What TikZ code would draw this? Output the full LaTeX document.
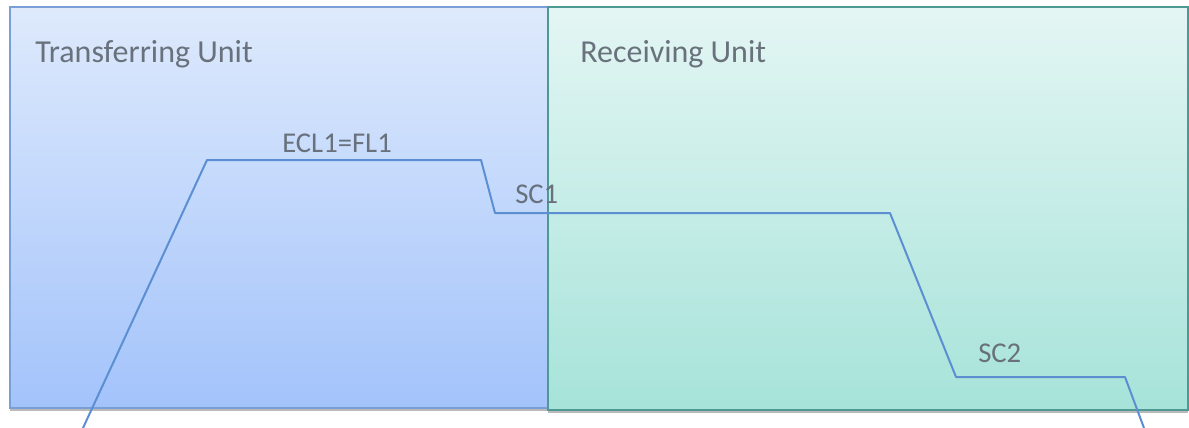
\documentclass[tikz,border=0pt]{standalone}
\usepackage{fontspec}
\setmainfont{Carlito}
\usetikzlibrary{shadows}
\definecolor{tuTop}{HTML}{DEEAFC}
\definecolor{tuBot}{HTML}{A3C3FB}
\definecolor{tuEdge}{HTML}{7A9FD6}
\definecolor{ruTop}{HTML}{E4F6F4}
\definecolor{ruBot}{HTML}{A6E3D9}
\definecolor{ruEdge}{HTML}{4F9995}
\definecolor{pathBlue}{HTML}{5C8FD2}
\definecolor{labelGray}{HTML}{68717C}
\tikzset{
  unitbox/.style={line width=1.5pt, drop shadow={shadow xshift=0pt, shadow yshift=-2.5pt, opacity=0.45, fill=black!60}},
  unittitle/.style={anchor=base west, inner sep=0pt, text=labelGray, font=\fontsize{24}{28}\selectfont},
  levellabel/.style={anchor=base west, inner sep=0pt, text=labelGray, font=\fontsize{21.5}{25}\selectfont},
  levelpath/.style={draw=pathBlue, line width=1.5pt, line join=round}
}
\begin{document}
\begin{tikzpicture}[x=0.75pt,y=-0.75pt]
  \useasboundingbox (0,0) rectangle (1189,428);
  \fill[white] (0,0) rectangle (1189,428);
  % the two units
  \path[unitbox, draw=tuEdge, top color=tuTop, bottom color=tuBot]
    (10,7) rectangle (550,408);
  \path[unitbox, draw=ruEdge, top color=ruTop, bottom color=ruBot]
    (548,7) rectangle (1188,410);
  \node[unittitle] (tu) at (35,63) {Transferring Unit};
  \node[unittitle] (ru) at (580,63) {Receiving Unit};
  % level profile across the two units
  \coordinate (p0) at (83,428);
  \coordinate (p1) at (207,160);
  \coordinate (p2) at (481,160);
  \coordinate (p3) at (495,213);
  \coordinate (p4) at (890,213);
  \coordinate (p5) at (956,377);
  \coordinate (p6) at (1125,377);
  \coordinate (p7) at (1144,428);
  \draw[levelpath] (p0) -- (p1) -- (p2) -- (p3) -- (p4) -- (p5) -- (p6) -- (p7);
  \node[levellabel] (ecl) at (282,152) {ECL1=FL1};
  \node[levellabel] (sc1) at (515,203) {SC1};
  \node[levellabel] (sc2) at (978,362) {SC2};
\end{tikzpicture}
\end{document}
